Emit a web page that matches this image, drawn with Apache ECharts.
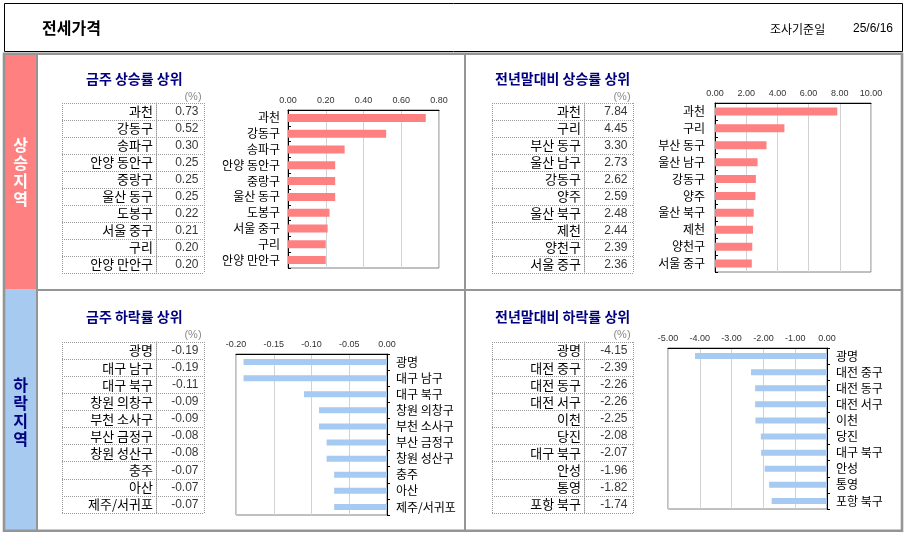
<!DOCTYPE html>
<html>
<head>
<meta charset="utf-8">
<script src="https://cdn.jsdelivr.net/npm/echarts@6/dist/echarts.min.js"></script>
<style>
  html, body { margin: 0; padding: 0; background: #fff; }
  #main { width: 905px; height: 536px; }
</style>
</head>
<body>
<div id="main"></div>
<script>
// 금주 상승률 상위
var upWeekNames = ['과천', '강동구', '송파구', '안양 동안구', '중랑구', '울산 동구', '도봉구', '서울 중구', '구리', '안양 만안구'];
var upWeekVals = [0.73, 0.52, 0.30, 0.25, 0.25, 0.25, 0.22, 0.21, 0.20, 0.20];

// 전년말대비 상승률 상위
var upYearNames = ['과천', '구리', '부산 동구', '울산 남구', '강동구', '양주', '울산 북구', '제천', '양천구', '서울 중구'];
var upYearVals = [7.84, 4.45, 3.30, 2.73, 2.62, 2.59, 2.48, 2.44, 2.39, 2.36];

// 금주 하락률 상위
var downWeekNames = ['광명', '대구 남구', '대구 북구', '창원 의창구', '부천 소사구', '부산 금정구', '창원 성산구', '충주', '아산', '제주/서귀포'];
var downWeekVals = [-0.19, -0.19, -0.11, -0.09, -0.09, -0.08, -0.08, -0.07, -0.07, -0.07];

// 전년말대비 하락률 상위
var downYearNames = ['광명', '대전 중구', '대전 동구', '대전 서구', '이천', '당진', '대구 북구', '안성', '통영', '포항 북구'];
var downYearVals = [-4.15, -2.39, -2.26, -2.26, -2.25, -2.08, -2.07, -1.96, -1.82, -1.74];

var KR = '"Noto Sans CJK KR", sans-serif';
var NUM = '"Liberation Sans", Arial, sans-serif';
var PINK = '#FF8080';
var BLUE = '#A6CAF0';
var NAVY = '#000080';
var FRAME = '#959595';

var panels = [
  { names: upWeekNames, vals: upWeekVals, title: '금주 상승률 상위', color: PINK,
    tx: 86, ty: 79, px: 193, py: 97,
    table: { left: 62, top: 103, width: 142, height: 170, nameW: 94 },
    plot: { left: 288, top: 110, width: 151, height: 158 },
    min: 0, max: 0.8, step: 0.2, side: 'left', barW: 8, margin: 8, tickIn: true },
  { names: upYearNames, vals: upYearVals, title: '전년말대비 상승률 상위', color: PINK,
    tx: 495, ty: 79, px: 622, py: 97,
    table: { left: 492, top: 103, width: 141, height: 170, nameW: 92 },
    plot: { left: 715, top: 103, width: 156, height: 169 },
    min: 0, max: 10, step: 2, side: 'left', barW: 8, margin: 10, tickIn: true },
  { names: downWeekNames, vals: downWeekVals, title: '금주 하락률 상위', color: BLUE,
    tx: 86, ty: 317, px: 193, py: 335,
    table: { left: 62, top: 342, width: 142, height: 171, nameW: 94 },
    plot: { left: 236, top: 354, width: 151, height: 161 },
    min: -0.2, max: 0, step: 0.05, side: 'right', barW: 6, margin: 9, tickIn: false },
  { names: downYearNames, vals: downYearVals, title: '전년말대비 하락률 상위', color: BLUE,
    tx: 495, ty: 317, px: 622, py: 335,
    table: { left: 492, top: 342, width: 141, height: 171, nameW: 92 },
    plot: { left: 668, top: 348, width: 159, height: 161 },
    min: -5, max: 0, step: 1, side: 'right', barW: 6, margin: 9, tickIn: false }
];

var dotted = { color: '#9a9a9a', type: 'dotted', width: 1 };

var grids = [], xAxes = [], yAxes = [], series = [];
var graphics = [
  // header box
  { type: 'rect', shape: { x: 4.5, y: 3.5, width: 898, height: 48 },
    style: { fill: '#fff', stroke: '#000', lineWidth: 1 } },
  { type: 'text', style: { text: '전세가격', x: 42, y: 28, font: 'bold 16px ' + KR, fill: '#000',
    textAlign: 'left', textVerticalAlign: 'middle', align: 'left', verticalAlign: 'middle' } },
  { type: 'text', style: { text: '조사기준일', x: 770, y: 29, font: '12px ' + KR, fill: '#000',
    textAlign: 'left', textVerticalAlign: 'middle', align: 'left', verticalAlign: 'middle' } },
  { type: 'text', style: { text: '25/6/16', x: 893, y: 29, font: '12px ' + NUM, fill: '#000',
    textAlign: 'right', textVerticalAlign: 'middle', align: 'right', verticalAlign: 'middle' } },
  // side bands
  { type: 'rect', shape: { x: 5, y: 55, width: 31, height: 234 }, style: { fill: PINK } },
  { type: 'rect', shape: { x: 5, y: 289, width: 31, height: 241 }, style: { fill: BLUE } },
  { type: 'text', style: { text: '상\n승\n지\n역', x: 20.5, y: 172, font: 'bold 16px ' + KR, lineHeight: 18,
    fill: '#fff', textAlign: 'center', textVerticalAlign: 'middle', align: 'center', verticalAlign: 'middle' } },
  { type: 'text', style: { text: '하\n락\n지\n역', x: 20.5, y: 412, font: 'bold 16px ' + KR, lineHeight: 18,
    fill: NAVY, textAlign: 'center', textVerticalAlign: 'middle', align: 'center', verticalAlign: 'middle' } },
  // frame and dividers
  { type: 'rect', shape: { x: 4, y: 53.8, width: 898, height: 477 },
    style: { fill: 'none', stroke: FRAME, lineWidth: 2.6 } },
  { type: 'rect', shape: { x: 36, y: 55, width: 2, height: 475 }, style: { fill: FRAME } },
  { type: 'rect', shape: { x: 464, y: 55, width: 2, height: 475 }, style: { fill: FRAME } },
  { type: 'rect', shape: { x: 38, y: 289, width: 864, height: 2 }, style: { fill: FRAME } }
];

panels.forEach(function (p, i) {
  var gt = 2 * i, gp = 2 * i + 1;

  graphics.push({ type: 'text', style: { text: p.title, x: p.tx, y: p.ty, font: 'bold 14px ' + KR,
    fill: NAVY, textAlign: 'left', textVerticalAlign: 'middle', align: 'left', verticalAlign: 'middle' } });
  graphics.push({ type: 'text', style: { text: '(%)', x: p.px, y: p.py, font: '11px ' + NUM,
    fill: '#8a8a8a', textAlign: 'center', textVerticalAlign: 'middle', align: 'center', verticalAlign: 'middle' } });

  // table (name column + value column)
  grids.push({ left: p.table.left, top: p.table.top, width: p.table.width, height: p.table.height,
    show: false, outerBoundsMode: 'none' });
  xAxes.push({ type: 'value', gridIndex: gt, min: 0, max: 1, interval: 1,
    axisLine: { show: false }, axisTick: { show: false }, axisLabel: { show: false },
    splitLine: { show: true, lineStyle: dotted } });
  yAxes.push({ type: 'category', gridIndex: gt, data: p.names, inverse: true, position: 'left',
    offset: -p.table.nameW,
    axisLine: { show: true, onZero: false, lineStyle: dotted },
    axisTick: { show: false },
    axisLabel: { interval: 0, margin: 3, fontSize: 13, color: '#000', fontFamily: KR },
    splitLine: { show: true, interval: 0, lineStyle: dotted } });
  series.push({ type: 'scatter', xAxisIndex: gt, yAxisIndex: gt, silent: true,
    symbolSize: 1, itemStyle: { color: 'rgba(0,0,0,0)' },
    data: p.vals.map(function (v, k) { return [1, k, v]; }),
    label: { show: true, position: 'left', distance: 5, fontSize: 12, color: '#000', fontFamily: NUM,
      formatter: function (q) { return q.value[2].toFixed(2); } } });

  // bar chart
  grids.push({ left: p.plot.left, top: p.plot.top, width: p.plot.width, height: p.plot.height,
    show: true, borderColor: '#808080', borderWidth: 1, outerBoundsMode: 'none' });
  xAxes.push({ type: 'value', gridIndex: gp, position: 'top', min: p.min, max: p.max, interval: p.step,
    axisLine: { show: true, onZero: false, lineStyle: { color: '#000' } },
    axisTick: { show: false },
    axisLabel: { fontSize: 9, color: '#333', margin: 5, fontFamily: NUM,
      formatter: function (v) { return v.toFixed(2); } },
    splitLine: { show: true, lineStyle: { color: '#d2d2d2' } } });
  yAxes.push({ type: 'category', gridIndex: gp, data: p.names, inverse: true, position: p.side,
    axisLine: { show: true, onZero: false, lineStyle: { color: '#000' } },
    axisTick: { show: true, inside: p.tickIn, length: 3, lineStyle: { color: '#000' } },
    axisLabel: { interval: 0, margin: p.margin, fontSize: 12, color: '#000', fontFamily: KR },
    splitLine: { show: false } });
  series.push({ type: 'bar', xAxisIndex: gp, yAxisIndex: gp, silent: true,
    data: p.vals, barWidth: p.barW, itemStyle: { color: p.color } });
});

var chart = echarts.init(document.getElementById('main'), null, { renderer: 'canvas' });
chart.setOption({
  animation: false,
  backgroundColor: '#fff',
  grid: grids,
  xAxis: xAxes,
  yAxis: yAxes,
  series: series,
  graphic: { elements: graphics }
});
</script>
</body>
</html>
